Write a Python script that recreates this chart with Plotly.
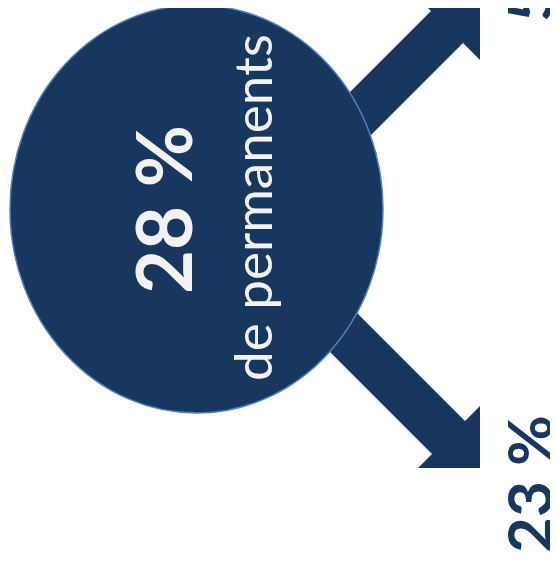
import plotly.graph_objects as go

# ---- content ----
main_value = "28 %"
main_label = "de permanents"
branch_values = ["5", "23 %"]        # top branch (cut off), bottom branch

NAVY = "#17375E"
EDGE = "#4F81BD"
W, H = 558, 563
OFF = 8  # page body margin compensation

fig = go.Figure()

# arrows (drawn first, circle on top)
up_arrow = "M234,208 L431,11 L414,-6 L480,-6 L480,60 L463,43 L266,240 Z"
down_arrow = "M266,222 L465,421 L480,406 L480,468 L418,468 L432,454 L234,256 Z"
shapes = [
    dict(type="path", path=up_arrow, xref="x", yref="y", fillcolor=NAVY,
         line=dict(width=0), layer="above"),
    dict(type="path", path=down_arrow, xref="x", yref="y", fillcolor=NAVY,
         line=dict(width=0), layer="above"),
    dict(type="circle", x0=10, x1=383, y0=5, y1=413, xref="x", yref="y",
         fillcolor=NAVY, line=dict(color=EDGE, width=1.5), layer="above"),
]

annotations = [
    dict(text=f"<b>{main_value}</b>", x=162, y=210, xref="x", yref="y",
         textangle=-90, showarrow=False, xanchor="center", yanchor="middle",
         font=dict(family="Lato", size=76, color="#F2F2F2")),
    dict(text=main_label, x=251, y=208, xref="x", yref="y",
         textangle=-90, showarrow=False, xanchor="center", yanchor="middle",
         font=dict(family="Lato", size=53, color="#F2F2F2")),
    dict(text=f"<b>{branch_values[1]}</b>", x=528, y=484, xref="x", yref="y",
         textangle=-90, showarrow=False, xanchor="center", yanchor="middle",
         font=dict(family="Lato", size=62, color=NAVY)),
    dict(text=f"<b>{branch_values[0]}</b>", x=528, y=24, xref="x", yref="y",
         textangle=-90, showarrow=False, xanchor="center", yanchor="bottom",
         font=dict(family="Lato", size=62, color=NAVY)),
]

fig.update_layout(
    width=W, height=H, autosize=False,
    margin=dict(l=0, r=0, t=0, b=0),
    paper_bgcolor="white", plot_bgcolor="white",
    xaxis=dict(range=[OFF, W + OFF], visible=False, fixedrange=True),
    yaxis=dict(range=[H + OFF, OFF], visible=False, fixedrange=True),
    shapes=shapes, annotations=annotations, showlegend=False,
)

fig.write_html("out.html")
